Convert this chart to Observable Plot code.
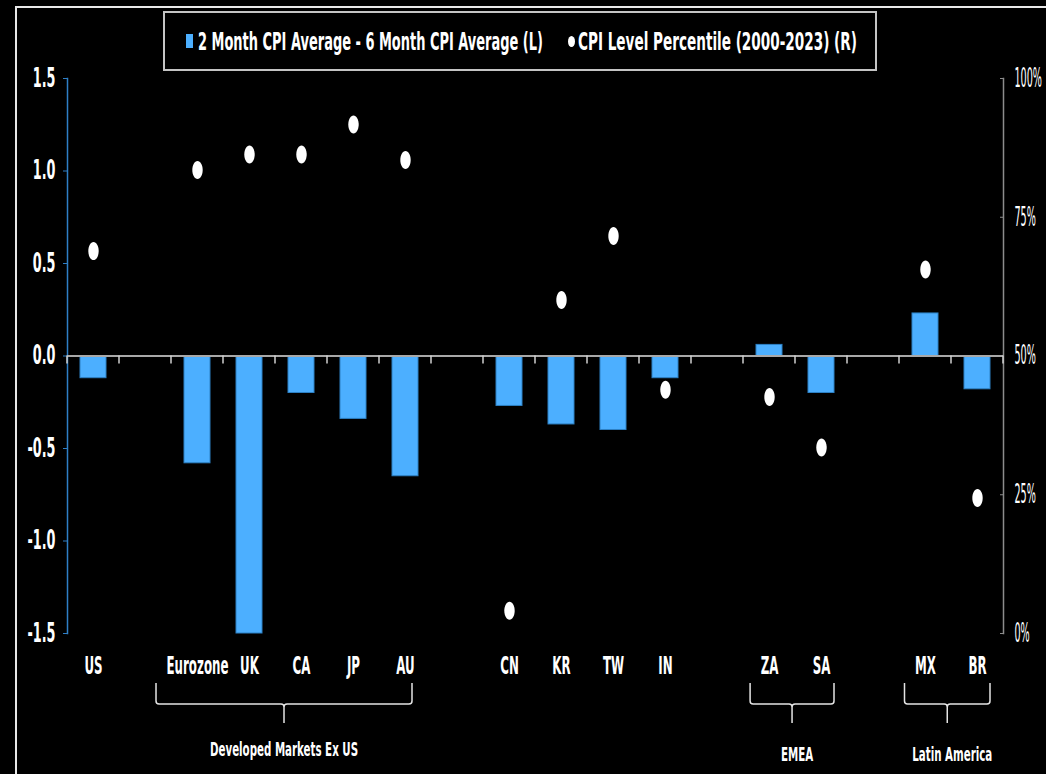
<!DOCTYPE html>
<html>
<head>
<meta charset="utf-8">
<script src="https://cdn.jsdelivr.net/npm/d3@7"></script>
<script src="https://cdn.jsdelivr.net/npm/@observablehq/plot@0.6"></script>
<style>
  html, body { margin: 0; padding: 0; background: #000; }
  #wrap { position: relative; width: 1046px; height: 774px; overflow: hidden; background: #000; }
  #frame { position: absolute; left: 15px; top: 6px; width: 1100px; height: 900px;
           border-left: 2px solid #e8e8e8; border-top: 2px solid #e8e8e8; }
  #chart { position: absolute; left: 0; top: 0; }
  #legend { position: absolute; left: 163px; top: 11px; width: 710px; height: 56px;
            border: 2px solid #c4c4c4; background: #000; }
  .lg { position: absolute; color: #fff; font-family: "Liberation Sans Narrow", "DejaVu Sans Condensed", "Arial Narrow", sans-serif;
        font-weight: bold; font-size: 24px; line-height: 24px; white-space: nowrap; transform-origin: 0 50%; }
  .mk-bar { position: absolute; background: #4cafff; }
  .mk-dot { position: absolute; background: #fff; border-radius: 50%; }
</style>
</head>
<body>
<div id="wrap">
  <div id="frame"></div>
  <div id="chart"></div>
  <div id="legend"></div>
</div>
<script>
// ---------------- data ----------------
const countries = ["US", "Eurozone", "UK", "CA", "JP", "AU", "CN", "KR", "TW", "IN", "ZA", "SA", "MX", "BR"];
const cpiDiff = [-0.12, -0.58, -1.50, -0.20, -0.34, -0.65, -0.27, -0.37, -0.40, -0.12, 0.06, -0.20, 0.23, -0.18];
const cpiPercentile = [68.9, 83.5, 86.3, 86.3, 91.7, 85.3, 4.1, 60.1, 71.6, 43.9, 42.6, 33.5, 65.6, 24.4];
const slots = ["US", "gap1", "Eurozone", "UK", "CA", "JP", "AU", "gap2", "CN", "KR", "TW", "IN", "gap3", "ZA", "SA", "gap4", "MX", "BR"];
const groupLabels = ["Developed Markets Ex US", "EMEA", "Latin America"];
const groupFrom = ["Eurozone", "ZA", "MX"];
const groupTo = ["AU", "SA", "BR"];
const leftTicks = [-1.5, -1.0, -0.5, 0, 0.5, 1.0, 1.5];
const rightTicks = [0, 25, 50, 75, 100];
const legendLabels = ["2 Month CPI Average - 6 Month CPI Average (L)", "CPI Level Percentile (2000-2023) (R)"];

// ---------------- setup ----------------
const FONT = '"Liberation Sans Narrow", "DejaVu Sans Condensed", "Arial Narrow", sans-serif';
const yMin = -1.5, yMax = 1.5;
const pctToY = p => yMin + (yMax - yMin) * p / 100;
const table = countries.map((c, i) => ({country: c, diff: cpiDiff[i], pct: cpiPercentile[i]}));
const BAR = "#4cafff", BAR_EDGE = "#2d80c4", AXIS_BLUE = "#2f7fc6", GREY = "#8c8c8c";

const ellipse = {
  draw(ctx) {
    const rx = 5.2, ry = 9, k = 0.5523;
    ctx.moveTo(rx, 0);
    ctx.bezierCurveTo(rx, ry * k, rx * k, ry, 0, ry);
    ctx.bezierCurveTo(-rx * k, ry, -rx, ry * k, -rx, 0);
    ctx.bezierCurveTo(-rx, -ry * k, -rx * k, -ry, 0, -ry);
    ctx.bezierCurveTo(rx * k, -ry, rx, -ry * k, rx, 0);
    ctx.closePath();
  }
};

const plot = Plot.plot({
  width: 1046,
  height: 774,
  marginLeft: 67,
  marginRight: 43,
  marginTop: 78,
  marginBottom: 141,
  style: {background: "transparent", color: "#fff", fontFamily: FONT, fontSize: "26px", overflow: "visible"},
  x: {type: "band", domain: slots, paddingInner: 0.5, paddingOuter: 0.25, align: 0.5},
  y: {domain: [yMin, yMax]},
  marks: [
    Plot.frame({anchor: "left", stroke: AXIS_BLUE, strokeWidth: 1.5}),
    Plot.frame({anchor: "right", stroke: GREY, strokeWidth: 1.5}),
    Plot.axisY({anchor: "left", ticks: leftTicks, tickFormat: d => d.toFixed(1), tickSize: 4, tickPadding: 8,
      stroke: AXIS_BLUE, fill: "#fff", fontWeight: "bold", fontSize: 26, label: null}),
    Plot.axisY({anchor: "right", ticks: rightTicks.map(pctToY),
      tickFormat: d => Math.round((d - yMin) / (yMax - yMin) * 100) + "%",
      tickSize: -4, tickPadding: 15, stroke: GREY, fill: "#fff", fontSize: 26, label: null}),
    Plot.axisX({anchor: "bottom", tickSize: 0, tickPadding: 23, tickFormat: d => d.startsWith("gap") ? "" : d,
      fill: "#fff", fontWeight: "bold", fontSize: 25, label: null}),
    Plot.barY(table, {x: "country", y: "diff", fill: BAR, stroke: BAR_EDGE, strokeWidth: 1}),
    Plot.ruleY([0], {stroke: "#a8a8a8", strokeWidth: 2}),
    Plot.dot(table, {x: "country", y: d => pctToY(d.pct), symbol: ellipse, fill: "#fff", stroke: "none"})
  ]
});
document.getElementById("chart").appendChild(plot);

// ---------------- post-render annotations ----------------
const svg = d3.select(plot);
const sx = plot.scale("x"), sy = plot.scale("y");
const step = sx.step, bw = sx.bandwidth;
const center = s => sx.apply(s) + bw / 2;
const y0 = sy.apply(0);
const frameBottom = sy.apply(yMin);

// condense text horizontally (scale about each text's own anchor point)
function squeeze(nodes, refText, target) {
  const ref = nodes.find(n => n.textContent === refText);
  if (!ref) return;
  const k = target / ref.getComputedTextLength();
  nodes.forEach(n => {
    const t = n.getAttribute("transform") || "";
    const x = parseFloat(n.getAttribute("x")) || 0;
    n.setAttribute("x", 0);
    n.setAttribute("transform", `${t} translate(${x},0) scale(${k.toFixed(4)},1)`);
  });
}
const yLabels = svg.selectAll('g[aria-label="y-axis tick label"] text').nodes();
squeeze(yLabels.filter(n => !n.textContent.includes("%")), "1.5", 22.7);
squeeze(yLabels.filter(n => n.textContent.includes("%")), "100%", 27.5);
const xLabels = svg.selectAll('g[aria-label="x-axis tick label"] text').nodes();
squeeze(xLabels, "Eurozone", 62);

// category boundary ticks below the zero line
const ann = svg.append("g").attr("aria-label", "annotations");
const bounds = slots.map(s => sx.apply(s) - (step - bw) / 2);
bounds.push(bounds[bounds.length - 1] + step);
ann.selectAll("line.bt").data(bounds).join("line")
  .attr("x1", d => d).attr("x2", d => d).attr("y1", y0).attr("y2", y0 + 8)
  .attr("stroke", "#d0d0d0").attr("stroke-width", 1.5);

// group brackets
const labelHalf = {};
xLabels.forEach(n => { if (n.textContent) labelHalf[n.textContent] = n.getBoundingClientRect().width / 2; });
const gl = [];
groupLabels.forEach((lab, i) => {
  const l = center(groupFrom[i]) - labelHalf[groupFrom[i]] - 10;
  const r = center(groupTo[i]) + (i === 0 ? 7 : 13);
  const c = (l + r) / 2;
  const top = frameBottom + 50, mid = frameBottom + 71, bot = frameBottom + 90, q = 3;
  const p = `M${l},${top}L${l},${mid - q}Q${l},${mid} ${l + q},${mid}L${c - q},${mid}Q${c},${mid} ${c},${mid + q}L${c},${bot}`
          + `M${c},${mid + q}Q${c},${mid} ${c + q},${mid}L${r - q},${mid}Q${r},${mid} ${r},${mid - q}L${r},${top}`;
  ann.append("path").attr("d", p).attr("fill", "none").attr("stroke", "#e4e4e4").attr("stroke-width", 1.5);
  const t = ann.append("text").attr("x", c + (i === 0 ? 0 : 5)).attr("y", frameBottom + (i === 0 ? 123 : 128))
    .attr("text-anchor", "middle").attr("fill", "#fff").attr("font-weight", "bold").attr("font-size", 20)
    .attr("font-family", FONT).text(lab);
  gl.push(t.node());
});
squeeze(gl, "Latin America", 80);

// ---------------- legend ----------------
const legend = document.getElementById("legend");
const ox = 165, oy = 13; // legend padding-box origin in page coords
function addEl(cls, x, y, w, h) {
  const e = document.createElement("div"); e.className = cls;
  Object.assign(e.style, {left: (x - ox) + "px", top: (y - oy) + "px", width: w + "px", height: h + "px"});
  legend.appendChild(e); return e;
}
addEl("mk-bar", 186, 34, 7, 14);
addEl("mk-dot", 567.5, 35.5, 7, 11);
const targets = [[198, 345], [578, 279]];
legendLabels.forEach((txt, i) => {
  const s = document.createElement("span"); s.className = "lg"; s.textContent = txt;
  s.style.left = (targets[i][0] - ox) + "px"; s.style.top = (30 - oy) + "px";
  legend.appendChild(s);
  const w = s.getBoundingClientRect().width;
  s.style.transform = `scaleX(${targets[i][1] / w})`;
});
</script>
</body>
</html>
